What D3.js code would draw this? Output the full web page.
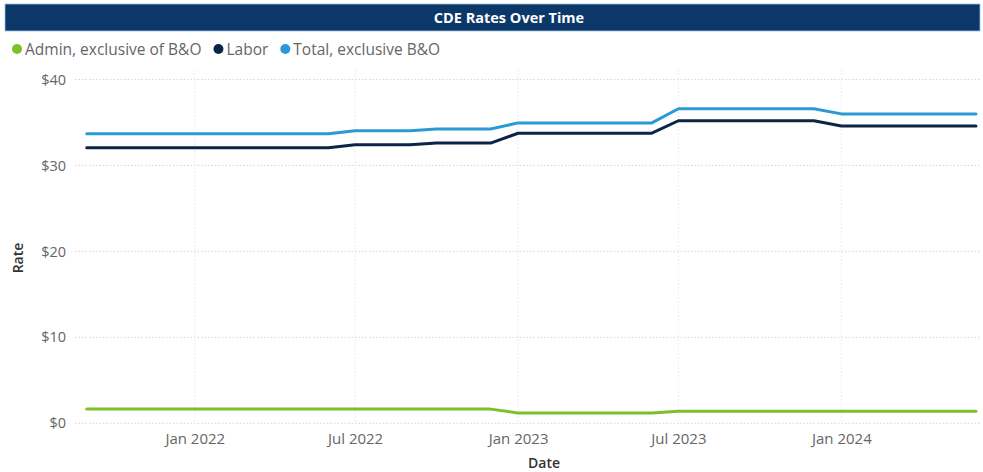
<!DOCTYPE html>
<html>
<head>
<meta charset="utf-8">
<script src="https://cdn.jsdelivr.net/npm/d3@7"></script>
<style>
  html, body { margin: 0; padding: 0; background: #ffffff; }
  svg { display: block; font-family: "Open Sans", "Noto Sans", sans-serif; }
</style>
</head>
<body>
<svg id="chart" width="983" height="472"></svg>
<script>
// Monthly rate series, Sep 2021 – Jun 2024
const months = [
  "2021-09","2021-10","2021-11","2021-12",
  "2022-01","2022-02","2022-03","2022-04","2022-05","2022-06",
  "2022-07","2022-08","2022-09","2022-10","2022-11","2022-12",
  "2023-01","2023-02","2023-03","2023-04","2023-05","2023-06",
  "2023-07","2023-08","2023-09","2023-10","2023-11","2023-12",
  "2024-01","2024-02","2024-03","2024-04","2024-05","2024-06"
];
const adminRates = [
  1.65,1.65,1.65,1.65,
  1.65,1.65,1.65,1.65,1.65,1.65,
  1.65,1.65,1.65,1.65,1.65,1.65,
  1.20,1.20,1.20,1.20,1.20,1.20,
  1.40,1.40,1.40,1.40,1.40,1.40,
  1.40,1.40,1.40,1.40,1.40,1.40
];
const laborRates = [
  32.05,32.05,32.05,32.05,
  32.05,32.05,32.05,32.05,32.05,32.05,
  32.40,32.40,32.40,32.60,32.60,32.60,
  33.75,33.75,33.75,33.75,33.75,33.75,
  35.20,35.20,35.20,35.20,35.20,35.20,
  34.60,34.60,34.60,34.60,34.60,34.60
];
const totalRates = [
  33.70,33.70,33.70,33.70,
  33.70,33.70,33.70,33.70,33.70,33.70,
  34.05,34.05,34.05,34.25,34.25,34.25,
  34.95,34.95,34.95,34.95,34.95,34.95,
  36.60,36.60,36.60,36.60,36.60,36.60,
  36.00,36.00,36.00,36.00,36.00,36.00
];
const seriesNames = ["Admin, exclusive of B&O", "Labor", "Total, exclusive B&O"];
const seriesColors = ["#7dc02a", "#0d2447", "#2a9ad6"];
const yTicks = [0, 10, 20, 30, 40];
const xTickDates = ["2022-01", "2022-07", "2023-01", "2023-07", "2024-01"];
const xTickLabels = ["Jan 2022", "Jul 2022", "Jan 2023", "Jul 2023", "Jan 2024"];

const parseMonth = d3.timeParse("%Y-%m");
const dates = months.map(parseMonth);
const series = [adminRates, laborRates, totalRates].map((vals, i) => ({
  name: seriesNames[i],
  color: seriesColors[i],
  points: vals.map((v, j) => ({ date: dates[j], value: v }))
}));

const svg = d3.select("#chart");

// Header bar
svg.append("rect")
  .attr("x", 5).attr("y", 4).attr("width", 975).attr("height", 27)
  .attr("fill", "#0b3868").attr("stroke", "#9cc3e0").attr("stroke-width", 0.8);
svg.append("text")
  .attr("x", 509).attr("y", 22.5)
  .attr("text-anchor", "middle")
  .attr("fill", "#ffffff")
  .attr("font-size", 14.5).attr("font-weight", 700)
  .text("CDE Rates Over Time");

// Legend
let lx = 17;
const legend = svg.append("g");
series.forEach((s) => {
  legend.append("circle").attr("cx", lx).attr("cy", 49).attr("r", 5).attr("fill", s.color);
  const t = legend.append("text")
    .attr("x", lx + 8).attr("y", 54.5)
    .attr("fill", "#666666").attr("font-size", 15.5)
    .text(s.name);
  lx += 8 + t.node().getComputedTextLength() + 17;
});

// Scales
const x = d3.scaleTime()
  .domain([dates[0], dates[dates.length - 1]])
  .range([86.7, 976]);
const y = d3.scaleLinear().domain([0, 40]).range([423.3, 79.5]);

// Gridlines
const grid = svg.append("g");
grid.selectAll("line.h").data(yTicks).join("line")
  .attr("class", "h")
  .attr("x1", 75).attr("x2", 980)
  .attr("y1", d => y(d)).attr("y2", d => y(d))
  .attr("stroke", "#d6d6d6").attr("stroke-width", 1)
  .attr("stroke-dasharray", "1.5,2");
grid.selectAll("line.v").data(xTickDates.map(parseMonth)).join("line")
  .attr("class", "v")
  .attr("x1", d => x(d)).attr("x2", d => x(d))
  .attr("y1", 70).attr("y2", 423.3)
  .attr("stroke", "#e6e6e6").attr("stroke-width", 1)
  .attr("stroke-dasharray", "1.5,2");

// Y axis
const yAxis = d3.axisLeft(y).tickValues(yTicks).tickSize(0).tickPadding(0)
  .tickFormat(d => "$" + d);
const gy = svg.append("g").attr("transform", "translate(66,0)").call(yAxis);
gy.select(".domain").remove();
gy.selectAll("text").attr("fill", "#666666").attr("font-size", 14.5)
  .attr("font-family", "\"Open Sans\", sans-serif");

// X axis
const xAxis = d3.axisBottom(x).tickValues(xTickDates.map(parseMonth)).tickSize(0).tickPadding(0)
  .tickFormat((d, i) => xTickLabels[i]);
const gx = svg.append("g").attr("transform", "translate(0,433)").call(xAxis);
gx.select(".domain").remove();
gx.selectAll("text").attr("fill", "#666666").attr("font-size", 15)
  .attr("font-family", "\"Open Sans\", sans-serif");

// Axis titles
svg.append("text")
  .attr("x", 544).attr("y", 468)
  .attr("text-anchor", "middle")
  .attr("fill", "#333333").attr("font-size", 14).attr("font-weight", 600)
  .text("Date");
svg.append("text")
  .attr("transform", "translate(23,258) rotate(-90)")
  .attr("text-anchor", "middle")
  .attr("fill", "#333333").attr("font-size", 14).attr("font-weight", 600)
  .text("Rate");

// Lines
const line = d3.line().x(d => x(d.date)).y(d => y(d.value));
svg.append("g").selectAll("path").data(series).join("path")
  .attr("d", d => line(d.points))
  .attr("fill", "none")
  .attr("stroke", d => d.color)
  .attr("stroke-width", 3)
  .attr("stroke-linejoin", "round")
  .attr("stroke-linecap", "round");
</script>
</body>
</html>
